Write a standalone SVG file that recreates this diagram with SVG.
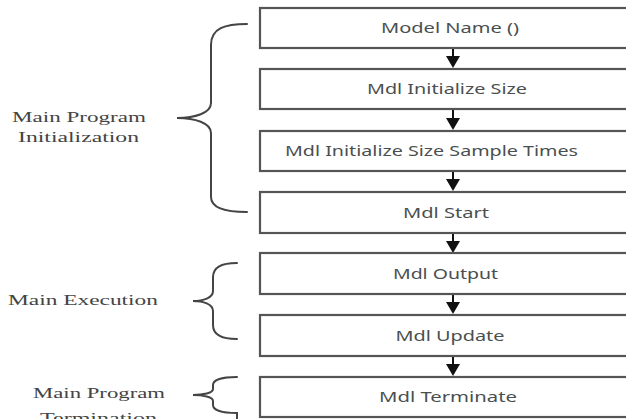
<svg xmlns="http://www.w3.org/2000/svg" width="626" height="419" viewBox="0 0 626 419">
<style>
.box{fill:#fff;stroke:#555;stroke-width:2.2}
.bt{font-family:"Noto Sans","Open Sans",sans-serif;font-size:14px;fill:#4a4f50;text-anchor:middle}
.lb{font-family:"Liberation Serif","DejaVu Serif",serif;font-size:15px;fill:#444;text-anchor:middle}
.br{fill:none;stroke:#444;stroke-width:2;stroke-linecap:round}
.st{stroke:#111;stroke-width:2}
.hd{fill:#111}
</style>
<rect width="626" height="419" fill="#fff"/>
<g id="connectors">
<line class="st" x1="453" y1="48" x2="453" y2="57"/><polygon class="hd" points="446,56 460,56 453,68"/>
<line class="st" x1="453" y1="109" x2="453" y2="119"/><polygon class="hd" points="446,118 460,118 453,130"/>
<line class="st" x1="453" y1="171" x2="453" y2="180"/><polygon class="hd" points="446,179 460,179 453,191"/>
<line class="st" x1="453" y1="233" x2="453" y2="242"/><polygon class="hd" points="446,241 460,241 453,253"/>
<line class="st" x1="453" y1="294" x2="453" y2="303"/><polygon class="hd" points="446,302 460,302 453,314"/>
<line class="st" x1="453" y1="356" x2="453" y2="365"/><polygon class="hd" points="446,364 460,364 453,376"/>
</g>
<g id="n1"><rect class="box" x="260" y="8" width="400" height="40"/><text class="bt" x="450" y="33" textLength="138" lengthAdjust="spacingAndGlyphs">Model Name ()</text></g>
<g id="n2"><rect class="box" x="260" y="69" width="400" height="40"/><text class="bt" x="447" y="94" textLength="160" lengthAdjust="spacingAndGlyphs">Mdl Initialize Size</text></g>
<g id="n3"><rect class="box" x="260" y="131" width="400" height="40"/><text class="bt" x="431.5" y="156" textLength="293" lengthAdjust="spacingAndGlyphs">Mdl Initialize Size Sample Times</text></g>
<g id="n4"><rect class="box" x="260" y="192" width="400" height="41"/><text class="bt" x="446" y="218" textLength="86" lengthAdjust="spacingAndGlyphs">Mdl Start</text></g>
<g id="n5"><rect class="box" x="260" y="253" width="400" height="41"/><text class="bt" x="445.5" y="279" textLength="105" lengthAdjust="spacingAndGlyphs">Mdl Output</text></g>
<g id="n6"><rect class="box" x="260" y="315" width="400" height="41"/><text class="bt" x="450" y="341" textLength="109" lengthAdjust="spacingAndGlyphs">Mdl Update</text></g>
<g id="n7"><rect class="box" x="260" y="377" width="400" height="40"/><text class="bt" x="448" y="402" textLength="138" lengthAdjust="spacingAndGlyphs">Mdl Terminate</text></g>
<g id="g1">
<path class="br" d="M247,24 C225,24 211,28 211,45 L211,103 C211,113 195,118 177,118 C195,118 211,123 211,133 L211,197 C211,208 225,212 247,212"/>
<text class="lb" x="79" y="122" textLength="134" lengthAdjust="spacingAndGlyphs">Main Program</text>
<text class="lb" x="78.5" y="142" textLength="121" lengthAdjust="spacingAndGlyphs">Initialization</text>
</g>
<g id="g2">
<path class="br" d="M237,263 C222,263 213,267 213,277 L213,291 C213,298 203,301 193,301 C203,301 213,304 213,311 L213,325 C213,335 222,339 237,339"/>
<text class="lb" x="83" y="305" textLength="150" lengthAdjust="spacingAndGlyphs">Main Execution</text>
</g>
<g id="g3">
<path class="br" d="M237,377 C222,377 213,380 213,385 L213,389 C213,393 203,395 193,395 C203,395 213,397 213,401 L213,405 C213,410 222,413 237,413 L237,419"/>
<text class="lb" x="99" y="398" textLength="132" lengthAdjust="spacingAndGlyphs">Main Program</text>
<text class="lb" x="98.5" y="423" textLength="117" lengthAdjust="spacingAndGlyphs">Termination</text>
</g>
</svg>
